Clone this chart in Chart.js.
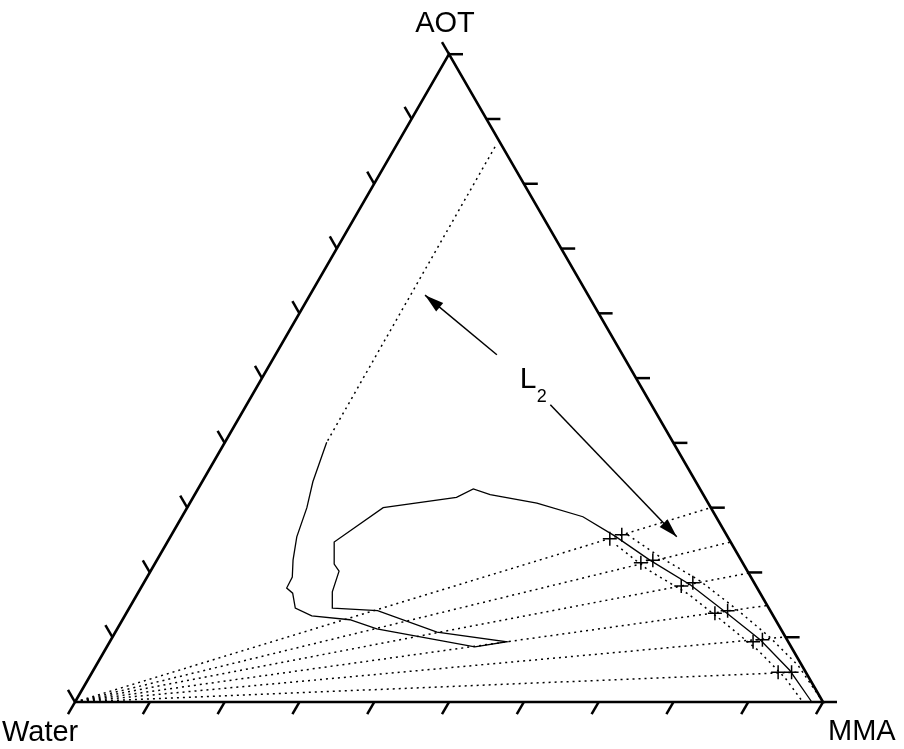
<!DOCTYPE html>
<html lang="en">
<head>
<meta charset="UTF-8">
<title>AOT / Water / MMA</title>
<script src="https://cdn.jsdelivr.net/npm/chart.js"></script>
<style>
  html, body { margin: 0; padding: 0; background: #fff; }
  #wrap { width: 904px; height: 749px; position: relative; }
</style>
</head>
<body>
<div id="wrap"><canvas id="ternary"></canvas></div>
<script>
// compositions in % (Water = 100 - AOT - MMA)
const tickValues = [0, 10, 20, 30, 40, 50, 60, 70, 80, 90, 100];

// dotted continuation of the L2 boundary towards AOT
const topDotAOT = [85.7, 40.1];
const topDotMMA = [13.3, 13.6];

// solid boundary
const boundaryAOT = [40.1, 34.0, 30.0, 25.5, 21.9, 19.3, 17.6, 16.8, 14.5, 13.3, 12.7, 11.3, 8.5, 9.3,
  10.8, 14.1, 14.5, 17.0, 20.2, 21.3, 24.7, 30.0, 31.6, 32.9, 32.0, 30.7, 28.6, 25.6, 21.9, 18.1,
  13.9, 9.6, 4.9, 0];
const boundaryMMA = [13.6, 14.8, 16.0, 16.9, 18.2, 19.4, 19.5, 20.7, 22.2, 25.0, 30.4, 34.7, 49.2, 53.1,
  43.0, 33.4, 27.2, 25.9, 25.2, 24.0, 22.3, 26.2, 35.2, 36.8, 39.5, 46.4, 53.6, 59.4, 65.9, 73.2,
  80.0, 86.8, 93.1, 98.5];

// dotted lines either side of the boundary near MMA
const lowerAOT = [24.2, 20.4, 16.7, 12.5, 8.0, 3.7, 0];
const lowerMMA = [60.3, 66.4, 73.6, 80.3, 87.3, 93.1, 97.3];
const upperAOT = [25.8, 22.4, 18.7, 14.5, 10.0, 5.6, 0];
const upperMMA = [61.0, 67.0, 74.2, 81.0, 87.9, 93.9, 100];

// measured points (+)
const plusAOT = [25.2, 21.5, 17.9, 13.7, 9.3, 4.6, 25.8, 21.9, 18.4, 14.1, 9.6, 4.6];
const plusMMA = [58.9, 64.9, 72.1, 78.7, 86.0, 91.7, 60.2, 66.3, 73.4, 80.2, 87.1, 93.5];

// tie lines, from the Water corner to these ends
const tieEndAOT = [30.0, 24.7, 19.9, 14.9, 10.0, 4.6];
const tieEndMMA = [70.0, 75.3, 80.1, 85.1, 89.6, 94.2];

// L2 arrows and label
const arrowTailAOT = [53.6, 45.9];
const arrowTailMMA = [29.6, 40.6];
const arrowTipAOT = [62.8, 25.5];
const arrowTipMMA = [15.4, 67.7];
const labelAOT = 50.0;
const labelMMA = 35.4;

const H = Math.sqrt(3) / 2;
const toXY = (aot, mma) => ({ x: mma + aot / 2, y: aot * H });
const path = (aots, mmas) => aots.map((a, i) => toXY(a, mmas[i]));

function linea(data, dotted, width) {
  return {
    data: data,
    showLine: true,
    borderColor: '#000',
    borderWidth: width || 1.3,
    borderDash: dotted ? [2, 4] : [],
    pointRadius: 0,
    fill: false,
    tension: 0
  };
}

const datasets = [
  linea(path([0, 0, 100, 0], [0, 100, 0, 0]), false, 2.6),
  linea(path(topDotAOT, topDotMMA), true, 1.5),
  linea(path(boundaryAOT, boundaryMMA), false, 1.3),
  linea(path(lowerAOT, lowerMMA), true, 1.5),
  linea(path(upperAOT, upperMMA), true, 1.5)
];
tieEndAOT.forEach((a, i) => {
  datasets.push(linea([toXY(0, 0), toXY(a, tieEndMMA[i])], true, 1.5));
});
arrowTailAOT.forEach((a, i) => {
  datasets.push(linea([toXY(a, arrowTailMMA[i]), toXY(arrowTipAOT[i], arrowTipMMA[i])], false, 1.5));
});
datasets.push({
  data: path(plusAOT, plusMMA),
  showLine: false,
  pointStyle: 'cross',
  pointRadius: 7,
  borderColor: '#000',
  borderWidth: 1.5
});

// ticks, corner names, arrow heads and the L2 label
const extras = {
  id: 'extras',
  afterDatasetsDraw(chart) {
    const { ctx, scales: { x, y } } = chart;
    const px = p => [x.getPixelForValue(p.x), y.getPixelForValue(p.y)];
    const seg = (a, b, c, d) => { ctx.beginPath(); ctx.moveTo(a, b); ctx.lineTo(c, d); ctx.stroke(); };
    ctx.save();
    ctx.strokeStyle = '#000';
    ctx.fillStyle = '#000';
    ctx.lineWidth = 2.5;
    const L = 14;
    tickValues.forEach(v => {
      let [a, b] = px(toXY(0, v));          // Water-MMA side
      seg(a, b, a - L * 0.5, b + L * H);
      [a, b] = px(toXY(v, 100 - v));        // MMA-AOT side
      seg(a, b, a + L, b);
      [a, b] = px(toXY(v, 0));              // Water-AOT side
      seg(a, b, a - L * 0.5, b - L * H);
    });

    // arrow heads
    arrowTipAOT.forEach((a, i) => {
      const [tx, ty] = px(toXY(a, arrowTipMMA[i]));
      const [sx, sy] = px(toXY(arrowTailAOT[i], arrowTailMMA[i]));
      const ang = Math.atan2(ty - sy, tx - sx);
      const len = 19, w = 5.5;
      const bx = tx - len * Math.cos(ang), by = ty - len * Math.sin(ang);
      ctx.beginPath();
      ctx.moveTo(tx, ty);
      ctx.lineTo(bx + w * Math.sin(ang), by - w * Math.cos(ang));
      ctx.lineTo(bx - w * Math.sin(ang), by + w * Math.cos(ang));
      ctx.closePath();
      ctx.fill();
    });

    const font = '"Liberation Sans", Arial, Helvetica, sans-serif';
    ctx.font = '29px ' + font;
    ctx.textBaseline = 'alphabetic';
    const [ax, ay] = px(toXY(100, 0));
    const [wx, wy] = px(toXY(0, 0));
    const [mx, my] = px(toXY(0, 100));
    ctx.textAlign = 'center';
    ctx.fillText('AOT', ax - 4, ay - 22);
    ctx.textAlign = 'left';
    ctx.fillText('Water', wx - 73, wy + 39);
    ctx.fillText('MMA', mx + 5, my + 38);

    const [lx, ly] = px(toXY(labelAOT, labelMMA));
    ctx.font = '30px ' + font;
    ctx.fillText('L', lx - 7, ly + 10);
    ctx.font = '18px ' + font;
    ctx.fillText('2', lx + 10, ly + 24);
    ctx.restore();
  }
};

new Chart(document.getElementById('ternary'), {
  type: 'scatter',
  data: { datasets: datasets },
  options: {
    responsive: true,
    maintainAspectRatio: false,
    animation: false,
    layout: { padding: 0, autoPadding: false },
    plugins: { legend: { display: false }, tooltip: { enabled: false } },
    scales: {
      x: { type: 'linear', min: -10.027, max: 110.829, display: false },
      y: { type: 'linear', min: -6.283, max: 93.85, display: false }
    }
  },
  plugins: [extras]
});
</script>
</body>
</html>
